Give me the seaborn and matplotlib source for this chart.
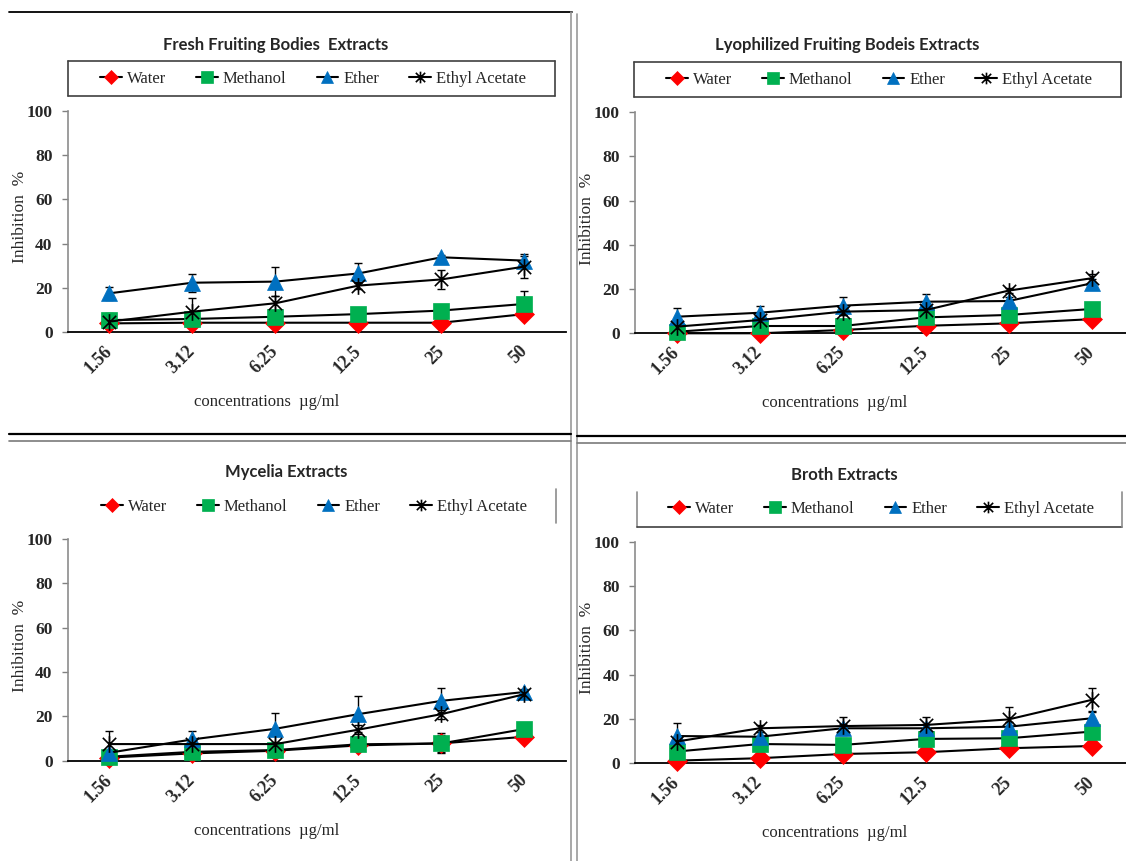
import numpy as np
import pandas as pd
import matplotlib
matplotlib.use("Agg")
import matplotlib.pyplot as plt
from matplotlib.lines import Line2D
from matplotlib.path import Path
import seaborn as sns

W, H = 1126, 861

concentrations = ["1.56", "3.12", "6.25", "12.5", "25", "50"]
solvents = ["Water", "Methanol", "Ether", "Ethyl Acetate"]

# Fresh fruiting bodies
fresh_water = [3.9, 4.2, 4.2, 4.2, 4.2, 8.1]
fresh_methanol = [5.4, 5.9, 6.9, 8.1, 9.7, 12.7]
fresh_ether = [17.5, 22.3, 22.8, 26.5, 33.8, 32.3]
fresh_ethyl = [4.7, 9.2, 13.0, 21.0, 23.8, 29.6]
fresh_water_err = [0.5, 0.5, 0.5, 0.5, 0.5, 1.0]
fresh_methanol_err = [3.2, 1.0, 1.0, 1.0, 1.0, 6.0]
fresh_ether_err = [3.0, 4.0, 6.4, 4.5, 1.0, 3.0]
fresh_ethyl_err = [1.0, 6.0, 3.5, 1.5, 4.2, 5.0]

# Lyophilized fruiting bodies
lyo_water = [0.0, 0.0, 1.5, 3.4, 4.5, 6.4]
lyo_methanol = [0.7, 3.3, 3.3, 7.2, 8.3, 11.0]
lyo_ether = [7.5, 9.3, 12.5, 14.3, 14.6, 22.6]
lyo_ethyl = [3.0, 6.0, 9.8, 10.5, 19.3, 24.9]
lyo_water_err = [0.5, 0.5, 0.5, 0.5, 0.5, 0.5]
lyo_methanol_err = [1.0, 1.0, 1.0, 1.0, 1.0, 1.0]
lyo_ether_err = [4.0, 3.0, 4.0, 3.5, 2.0, 2.0]
lyo_ethyl_err = [1.0, 1.0, 1.5, 1.0, 1.0, 2.0]

# Mycelia
myc_water = [1.4, 3.3, 4.5, 6.9, 7.8, 10.8]
myc_methanol = [1.8, 4.0, 4.8, 7.4, 7.8, 14.3]
myc_ether = [3.6, 9.6, 14.4, 21.0, 27.0, 31.0]
myc_ethyl = [7.5, 7.5, 7.5, 14.0, 21.0, 30.0]
myc_water_err = [0.5, 1.0, 1.0, 1.0, 4.0, 1.0]
myc_methanol_err = [1.0, 1.0, 1.0, 1.0, 4.5, 1.5]
myc_ether_err = [1.0, 4.0, 7.0, 8.0, 5.6, 1.5]
myc_ethyl_err = [6.0, 1.0, 1.0, 2.0, 2.0, 1.5]

# Broth
broth_water = [1.2, 2.3, 4.2, 5.0, 6.8, 7.8]
broth_methanol = [5.3, 8.7, 8.3, 11.0, 11.3, 14.3]
broth_ether = [12.3, 12.0, 15.8, 15.8, 16.5, 20.3]
broth_ethyl = [9.8, 15.8, 16.8, 17.3, 19.8, 28.6]
broth_water_err = [0.5, 0.5, 1.0, 0.5, 0.5, 0.5]
broth_methanol_err = [2.0, 2.0, 3.0, 2.0, 2.0, 2.0]
broth_ether_err = [6.0, 2.0, 2.0, 2.0, 2.0, 3.0]
broth_ethyl_err = [1.5, 1.5, 4.2, 3.7, 5.5, 5.2]

titles = ["Fresh Fruiting Bodies  Extracts", "Lyophilized Fruiting Bodeis Extracts",
          "Mycelia Extracts", "Broth Extracts"]

panels = [
    (fresh_water, fresh_methanol, fresh_ether, fresh_ethyl,
     fresh_water_err, fresh_methanol_err, fresh_ether_err, fresh_ethyl_err),
    (lyo_water, lyo_methanol, lyo_ether, lyo_ethyl,
     lyo_water_err, lyo_methanol_err, lyo_ether_err, lyo_ethyl_err),
    (myc_water, myc_methanol, myc_ether, myc_ethyl,
     myc_water_err, myc_methanol_err, myc_ether_err, myc_ethyl_err),
    (broth_water, broth_methanol, broth_ether, broth_ethyl,
     broth_water_err, broth_methanol_err, broth_ether_err, broth_ethyl_err),
]

# pixel layout: axes box (x0, x1, ytop, ybottom), title centre, legend centre
axes_px = [(67.8, 566, 111, 332), (635, 1133, 112.3, 333.3),
           (67.8, 566, 539, 760.7), (635, 1133, 541.7, 763.3)]
title_px = [(276, 45), (847, 45), (286, 472), (844, 475)]
legend_px = [(313, 79), (879, 80), (314, 507), (881, 509)]

star = Path([(-1, -1), (1, 1), (-1, 1), (1, -1), (0, -1.25), (0, 1.25)],
            [Path.MOVETO, Path.LINETO, Path.MOVETO, Path.LINETO, Path.MOVETO, Path.LINETO])
markers = ["D", "s", "^", star]
msizes = [10.5, 11.5, 12, 12]
colors = ["#FF0000", "#00B050", "#0070C0", "black"]

sns.set_style("white")
plt.rcParams["font.family"] = ["Liberation Serif", "DejaVu Serif"]

fig = plt.figure(figsize=(W / 100, H / 100), dpi=100)


def fx(x):
    return x / W


def fy(y):
    return 1 - y / H


for i, data in enumerate(panels):
    x0, x1, yt, yb = axes_px[i]
    ax = fig.add_axes([fx(x0), fy(yb), (x1 - x0) / W, (yb - yt) / H])
    vals = data[:4]
    errs = data[4:]
    for k in range(4):
        ax.errorbar(concentrations, vals[k], yerr=errs[k], fmt="none", ecolor="black",
                    elinewidth=1, capsize=3, capthick=1, zorder=1.5, clip_on=False)
    for k in range(4):
        df = pd.DataFrame({"conc": concentrations, "val": vals[k]})
        sns.lineplot(data=df, x="conc", y="val", sort=False, ax=ax, color="black",
                     lw=1.5, marker=markers[k], markersize=msizes[k],
                     markerfacecolor=colors[k], markeredgecolor=colors[k],
                     markeredgewidth=1.2 if k == 3 else 0.5, label=solvents[k],
                     clip_on=False, zorder=3 + k, legend=False)
    ax.set_xlim(-0.5, 5.5)
    ax.set_ylim(0, 100)
    ax.set_yticks(range(0, 101, 20))
    ax.set_xticks(range(6), labels=concentrations)
    ax.set_xticks(np.arange(-0.5, 6, 1), minor=True)
    ax.tick_params(axis="x", which="major", length=0, pad=12)
    ax.tick_params(axis="x", which="minor", length=4, width=1, color="#808080", direction="out")
    ax.tick_params(axis="y", length=4, width=1, color="#808080", direction="out", pad=7,
                   left=True)
    for lbl in ax.get_xticklabels():
        lbl.set_rotation(45)
        lbl.set_ha("right")
        lbl.set_va("center")
        lbl.set_rotation_mode("anchor")
        lbl.set_fontweight("bold")
        lbl.set_fontsize(13)
    for lbl in ax.get_yticklabels():
        lbl.set_fontweight("bold")
        lbl.set_fontsize(12.5)
    sns.despine(ax=ax)
    ax.spines["left"].set_color("#8c8c8c")
    ax.spines["left"].set_linewidth(1.2)
    ax.spines["bottom"].set_color("black")
    ax.spines["bottom"].set_linewidth(1.3)
    ax.set_xlabel("concentrations  \u00b5g/ml", fontsize=12)
    ax.set_ylabel("Inhibition  %", fontsize=12.5)
    ax.xaxis.set_label_coords(0.40, -0.28)
    ax.yaxis.set_label_coords(-0.08, 0.52)

    handles, labels = ax.get_legend_handles_labels()
    lx, ly = legend_px[i]
    ax.legend(handles, labels, ncol=4, frameon=False, loc="center",
              bbox_to_anchor=(fx(lx), fy(ly)), bbox_transform=fig.transFigure,
              prop={"family": "Liberation Serif", "size": 12}, handlelength=1.3,
              handletextpad=0.3, columnspacing=1.8, markerscale=0.7)

    tx, ty = title_px[i]
    fig.text(fx(tx), fy(ty), titles[i], ha="center", va="center", fontsize=12,
             fontweight="bold", family=["Lato", "DejaVu Sans"])


def seg(x0, y0, x1, y1, color="black", lw=1.2):
    fig.add_artist(Line2D([fx(x0), fx(x1)], [fy(y0), fy(y1)], transform=fig.transFigure,
                          color=color, lw=lw))


# panel frames and separators
seg(9, 12.3, 571.5, 12.3, "black", 1.3)
seg(571, 12.3, 571, 861, "#9a9a9a", 1.2)
seg(577.3, 14, 577.3, 861, "#9a9a9a", 1.2)
seg(9, 434.3, 571, 434.3, "black", 1.6)
seg(9, 441, 571, 441, "#7a7a7a", 1.2)
seg(577.3, 436, 1126, 436, "black", 1.6)
seg(577.3, 443.3, 1126, 443.3, "#7a7a7a", 1.2)

# legend boxes
for (bx0, by0, bx1, by1) in [(68, 61, 555, 95.5), (634, 62, 1121, 96.7)]:
    seg(bx0, by0, bx1, by0, "#404040", 1.2)
    seg(bx0, by1, bx1, by1, "#404040", 1.2)
    seg(bx0, by0, bx0, by1, "#404040", 1.2)
    seg(bx1, by0, bx1, by1, "#404040", 1.2)
seg(556, 489, 556, 523, "#8c8c8c", 1.2)
seg(636.7, 491.7, 636.7, 526.7, "#8c8c8c", 1.2)
seg(636.7, 526.7, 1122, 526.7, "#404040", 1.2)
seg(1122, 491.7, 1122, 526.7, "#8c8c8c", 1.2)

fig.savefig("out.png", dpi=100)
